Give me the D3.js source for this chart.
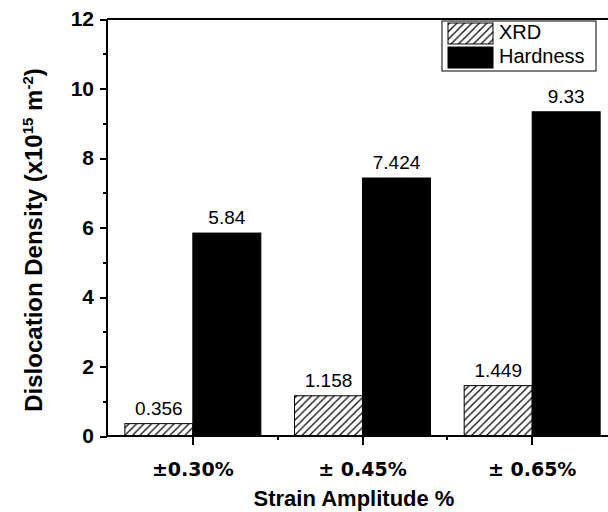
<!DOCTYPE html>
<html>
<head>
<meta charset="utf-8">
<script src="https://cdn.jsdelivr.net/npm/d3@7"></script>
<style>
  html, body { margin: 0; padding: 0; background: #fff; overflow: hidden; }
  svg { display: block; }
</style>
</head>
<body>
<svg id="chart" width="608" height="512"></svg>
<script>
// Dislocation density estimated from XRD and from hardness, per strain amplitude
const categories = ["±0.30%", "± 0.45%", "± 0.65%"];
const seriesNames = ["XRD", "Hardness"];
const xrdValues = [0.356, 1.158, 1.449];
const hardnessValues = [5.84, 7.424, 9.33];
const yTicks = [0, 2, 4, 6, 8, 10, 12];
const yMinorTicks = [1, 3, 5, 7, 9, 11];

const svg = d3.select("#chart");
const plot = { left: 107, right: 617, top: 19, bottom: 436 };

const x = d3.scaleBand().domain(categories).range([plot.left + 1, plot.right]).padding(0);
const x1 = d3.scaleBand().domain(seriesNames).range([-68, 68]).padding(0);
const y = d3.scaleLinear().domain([0, 12]).range([plot.bottom, plot.top]);

// diagonal hatch for the XRD series
const defs = svg.append("defs");
const hatch = defs.append("pattern")
  .attr("id", "hatch").attr("patternUnits", "userSpaceOnUse")
  .attr("width", 7.5).attr("height", 7.5);
hatch.append("path")
  .attr("d", "M0,7.5 L7.5,0 M-2,2 L2,-2 M5.5,9.5 L9.5,5.5")
  .attr("stroke", "#000").attr("stroke-width", 1.2);

const rows = categories.map((c, i) => ({ cat: c, XRD: xrdValues[i], Hardness: hardnessValues[i] }));

// bars
const groups = svg.append("g").selectAll("g").data(rows).join("g")
  .attr("transform", d => `translate(${x(d.cat) + x.bandwidth() / 2},0)`);

groups.selectAll("rect").data(d => seriesNames.map(k => ({ key: k, value: d[k] }))).join("rect")
  .attr("x", d => x1(d.key))
  .attr("width", x1.bandwidth())
  .attr("y", d => y(d.value))
  .attr("height", d => y(0) - y(d.value))
  .attr("fill", d => d.key === "XRD" ? "url(#hatch)" : "#000")
  .attr("stroke", "#000").attr("stroke-width", 1);

groups.selectAll("text").data(d => seriesNames.map(k => ({ key: k, value: d[k] }))).join("text")
  .attr("x", d => x1(d.key) + x1.bandwidth() / 2)
  .attr("y", d => y(d.value) - 9)
  .attr("text-anchor", "middle")
  .attr("font-family", "Liberation Sans, Arial, sans-serif")
  .attr("font-size", 19)
  .attr("fill", "#000")
  .text(d => String(d.value));

// y axis
const yAxis = svg.append("g").attr("transform", `translate(${plot.left},0)`)
  .call(d3.axisLeft(y).tickValues(yTicks).tickSize(7).tickPadding(6).tickFormat(d3.format("d")));
yAxis.select(".domain").remove();
yAxis.selectAll(".tick line").attr("stroke", "#000").attr("stroke-width", 2).attr("shape-rendering", "crispEdges");
yAxis.selectAll(".tick text")
  .attr("font-family", "Liberation Sans, Arial, sans-serif")
  .attr("font-weight", "bold").attr("font-size", 21).attr("fill", "#000");
const yMinor = svg.append("g").attr("transform", `translate(${plot.left},0)`)
  .call(d3.axisLeft(y).tickValues(yMinorTicks).tickSize(4).tickFormat(""));
yMinor.select(".domain").remove();
yMinor.selectAll(".tick line").attr("stroke", "#000").attr("stroke-width", 2).attr("shape-rendering", "crispEdges");

// x axis
const xAxis = svg.append("g").attr("transform", `translate(0,${plot.bottom})`)
  .call(d3.axisBottom(x).tickSize(9).tickPadding(18));
xAxis.select(".domain").remove();
xAxis.selectAll(".tick line").attr("stroke", "#000").attr("stroke-width", 2).attr("shape-rendering", "crispEdges");
xAxis.selectAll(".tick text")
  .attr("font-family", "DejaVu Sans, Verdana, sans-serif")
  .attr("font-weight", "bold").attr("font-size", 19).attr("fill", "#000");
// minor ticks on the band boundaries
const bounds = categories.slice(1).map(c => x(c));
svg.append("g").selectAll("line").data(bounds).join("line")
  .attr("x1", d => d).attr("x2", d => d)
  .attr("y1", plot.bottom).attr("y2", plot.bottom + 4)
  .attr("stroke", "#000").attr("stroke-width", 2).attr("shape-rendering", "crispEdges");

// frame lines (the right side runs past the canvas edge)
const frame = svg.append("g").attr("stroke", "#000").attr("stroke-width", 2).attr("shape-rendering", "crispEdges");
frame.append("line").attr("x1", plot.left).attr("x2", 640).attr("y1", plot.bottom).attr("y2", plot.bottom);
frame.append("line").attr("x1", plot.left).attr("x2", 640).attr("y1", plot.top).attr("y2", plot.top);
frame.append("line").attr("x1", plot.left).attr("x2", plot.left).attr("y1", plot.top).attr("y2", plot.bottom);

// axis titles
svg.append("text")
  .attr("x", (plot.left + plot.right) / 2 - 8).attr("y", 506)
  .attr("text-anchor", "middle")
  .attr("font-family", "Liberation Sans, Arial, sans-serif")
  .attr("font-weight", "bold").attr("font-size", 22)
  .text("Strain Amplitude %");

const yTitle = svg.append("text")
  .attr("transform", "translate(42,240) rotate(-90)")
  .attr("text-anchor", "middle")
  .attr("font-family", "Liberation Sans, Arial, sans-serif")
  .attr("font-weight", "bold").attr("font-size", 24);
yTitle.append("tspan").text("Dislocation Density (x10");
yTitle.append("tspan").attr("font-size", 15).attr("dy", -9).text("15");
yTitle.append("tspan").attr("dy", 9).text(" m");
yTitle.append("tspan").attr("font-size", 15).attr("dy", -9).text("-2");
yTitle.append("tspan").attr("dy", 9).text(")");

// legend
const legend = svg.append("g");
legend.append("rect").attr("x", 442).attr("y", 21).attr("width", 154).attr("height", 50)
  .attr("fill", "#fff").attr("stroke", "#000").attr("stroke-width", 1);
const legendRows = seriesNames.map((k, i) => ({ key: k, i }));
legend.selectAll("rect.sw").data(legendRows).join("rect").attr("class", "sw")
  .attr("x", 448).attr("y", d => 23 + d.i * 24).attr("width", 45).attr("height", 21)
  .attr("fill", d => d.key === "XRD" ? "url(#hatch)" : "#000")
  .attr("stroke", "#000").attr("stroke-width", 1);
legend.selectAll("text").data(legendRows).join("text")
  .attr("x", 499).attr("y", d => 39 + d.i * 24)
  .attr("font-family", "Liberation Sans, Arial, sans-serif")
  .attr("font-size", 20).attr("fill", "#000")
  .text(d => d.key);
</script>
</body>
</html>
